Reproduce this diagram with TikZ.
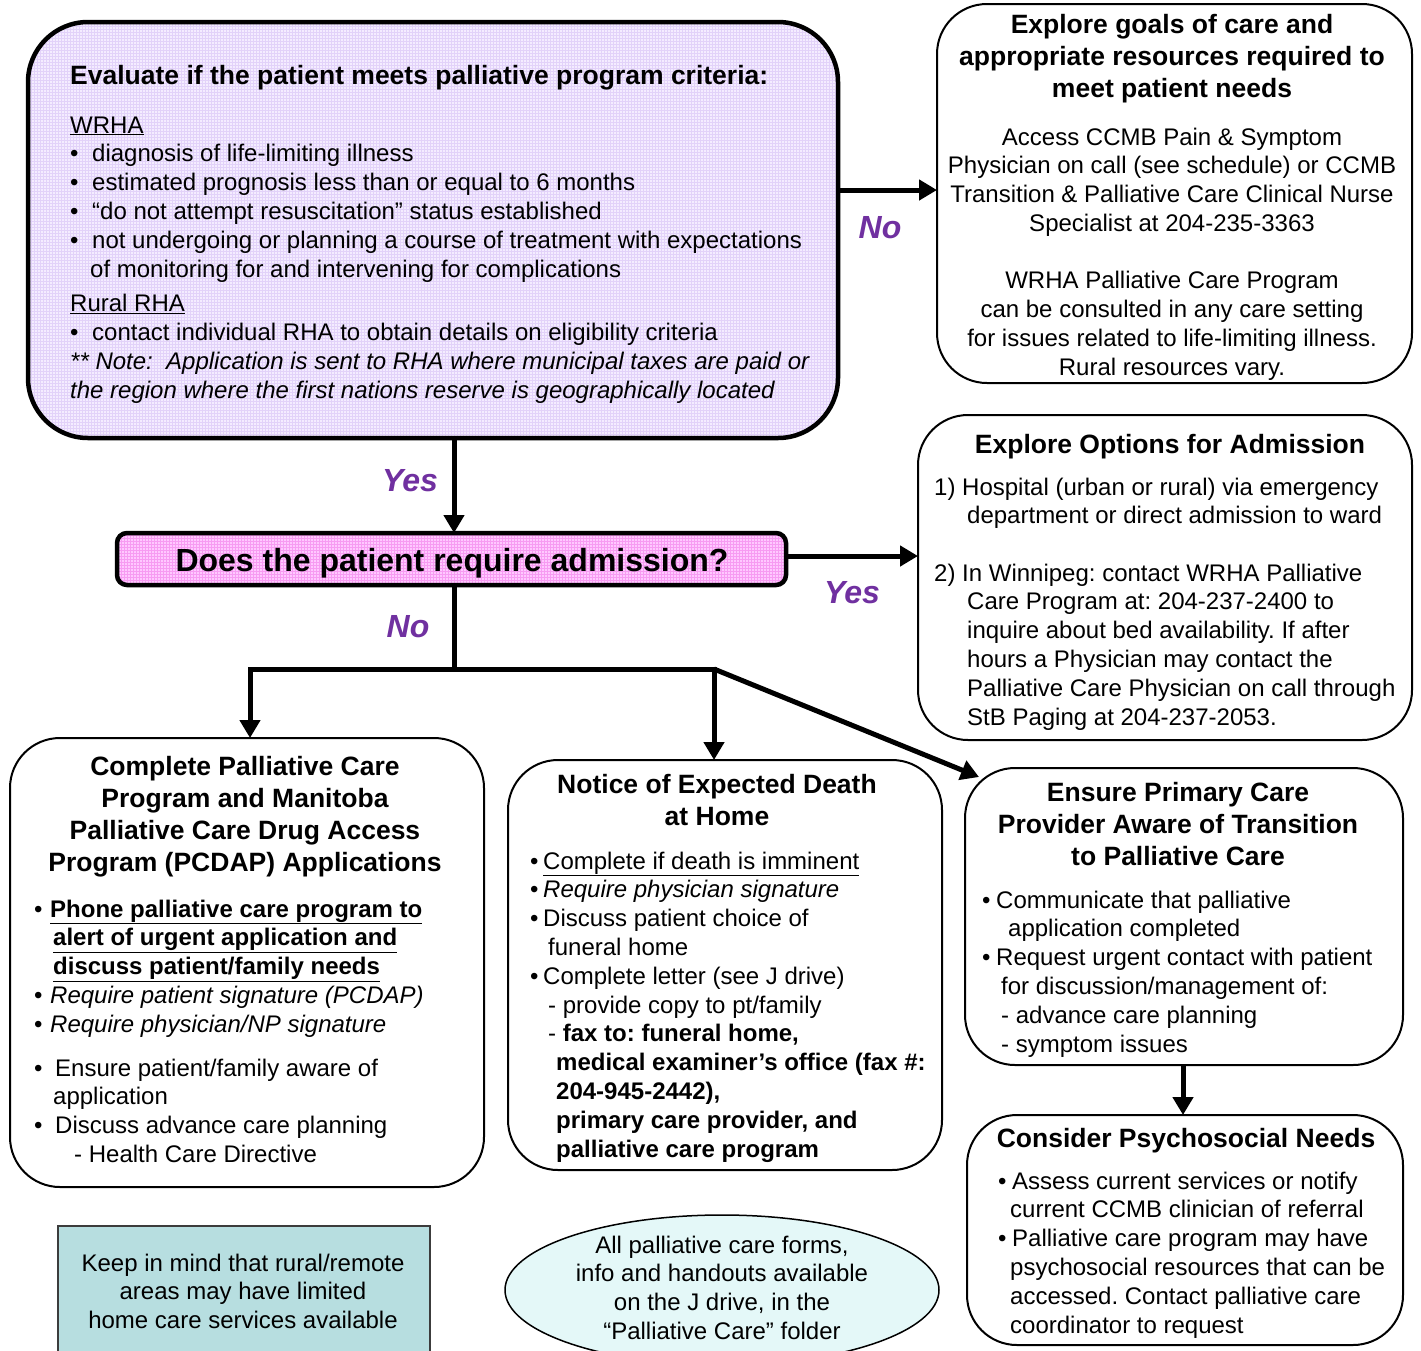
\documentclass[tikz,border=0pt]{standalone}
\usepackage{fontspec}
\setmainfont{Liberation Sans}
\usetikzlibrary{arrows.meta,shapes.geometric,calc}
\definecolor{evalfill}{RGB}{244,236,255}
\definecolor{evalgrid}{RGB}{226,210,249}
\definecolor{admfill}{RGB}{255,200,255}
\definecolor{admgrid}{RGB}{247,155,242}
\definecolor{lblpurple}{RGB}{112,48,160}
\definecolor{tealfill}{RGB}{183,222,224}
\definecolor{ellfill}{RGB}{228,248,248}
\definecolor{tealline}{RGB}{60,60,60}
\newcommand{\bodyfont}{\fontsize{24}{28.8}\selectfont}
\newcommand{\ttlfont}{\fontsize{26.5}{32}\selectfont\bfseries}
\newcommand{\bul}[1]{\makebox[#1][l]{•}}
\frenchspacing
\begin{document}
\begin{tikzpicture}[x=1pt,y=-1pt,
  thickbox/.style={draw, line width=4.5pt, inner sep=0pt, outer sep=0pt},
  thinbox/.style={draw, line width=2pt, inner sep=0pt, outer sep=0pt, rounded corners=50pt},
  gridfill/.style={path picture={\draw[#1, line width=0.6pt, step=3pt] (path picture bounding box.south west) grid (path picture bounding box.north east);}},
  arr/.style={line width=5pt, -{Triangle[length=18pt,width=20pt]}},
  conn/.style={line width=5pt},
  lbl/.style={font=\fontsize{32}{32}\selectfont\bfseries\itshape, text=lblpurple, inner sep=0pt},
  txt/.style={inner sep=0pt, anchor=base west},
  ctxt/.style={inner sep=0pt, anchor=base}]
\clip (0,0) rectangle (1421,1350);
\fill[white] (0,0) rectangle (1421,1350);

% ---------- boxes ----------
\node[thickbox, rounded corners=60pt, fill=evalfill, gridfill=evalgrid, minimum width=810pt, minimum height=416pt] (eval) at (433,230) {};
\node[thinbox, minimum width=475pt, minimum height=379pt] (goals) at (1174.5,193.5) {};
\node[thickbox, rounded corners=10pt, fill=admfill, gridfill=admgrid, minimum width=669pt, minimum height=52pt] (adm) at (451.5,559) {};
\node[thinbox, minimum width=494pt, minimum height=325pt] (opts) at (1165,577.5) {};
\node[thinbox, minimum width=474pt, minimum height=449pt] (cpc) at (247,962.5) {};
\node[thinbox, minimum width=434pt, minimum height=410pt] (ned) at (725,965) {};
\node[thinbox, minimum width=438pt, minimum height=297pt] (epc) at (1184,916.5) {};
\node[thinbox, minimum width=436pt, minimum height=230pt] (psy) at (1185,1230) {};
\node[draw=tealline, line width=1.5pt, fill=tealfill, inner sep=0pt, minimum width=372pt, minimum height=160pt] (teal) at (244,1306) {};
\node[draw, ellipse, line width=1.5pt, fill=ellfill, inner sep=0pt, minimum width=434pt, minimum height=150pt] (ell) at (722,1290) {};

% ---------- connectors ----------
\coordinate (y1) at (0,190);
\coordinate (y2) at (0,556);
\coordinate (x1) at (454,0);
\coordinate (x4) at (1183,0);
\coordinate (jn) at (454,669);
\coordinate (jl) at (250,669);
\coordinate (jr) at (714,669);
\coordinate (tip3) at (979,777);
\draw[arr] (eval.east |- y1) -- (goals.west |- y1);
\draw[arr] (eval.south -| x1) -- (adm.north -| x1);
\draw[arr] (adm.east |- y2) -- (opts.west |- y2);
\draw[conn] (adm.south -| x1) -- (jn);
\draw[conn, line cap=rect] (jl) -- (jr);
\draw[arr] (jl) -- (cpc.north -| jl);
\draw[arr] (jr) -- (ned.north -| jr);
\draw[arr] (jr) -- (tip3);
\draw[arr] (epc.south -| x4) -- (psy.north -| x4);

% ---------- labels ----------
\node[lbl] (lno1) at (880,228) {No};
\node[lbl] (lyes1) at (410,481) {Yes};
\node[lbl] (lyes2) at (852,593) {Yes};
\node[lbl] (lno2) at (408,627) {No};

% ---------- texts ----------
\node[txt, font=\ttlfont] (evalT) at (70,84) {Evaluate if the patient meets palliative program criteria:};
\node[txt] (evalB) at (70,133) {\parbox[t]{780pt}{\bodyfont
\underline{WRHA}\\
\bul{22pt}diagnosis of life-limiting illness\\
\bul{22pt}estimated prognosis less than or equal to 6 months\\
\bul{22pt}“do not attempt resuscitation” status established\\
\bul{22pt}not undergoing or planning a course of treatment with expectations\\
\hspace*{20pt}of monitoring for and intervening for complications\\[6pt]
\underline{Rural RHA}\\
\bul{22pt}contact individual RHA to obtain details on eligibility criteria\\
\textit{** Note:~ Application is sent to RHA where municipal taxes are paid or}\\
\textit{the region where the first nations reserve is geographically located}}};

\node[ctxt] (goalsT) at (1172,33) {\parbox[t]{470pt}{\centering\ttlfont
Explore goals of care and\\appropriate resources required to\\meet patient needs}};
\node[ctxt] (goalsB) at (1172,145) {\parbox[t]{470pt}{\centering\bodyfont
Access CCMB Pain \& Symptom\\
Physician on call (see schedule) or CCMB\\
Transition \& Palliative Care Clinical Nurse\\
Specialist at 204-235-3363\\[28.4pt]
WRHA Palliative Care Program\\
can be consulted in any care setting\\
for issues related to life-limiting illness.\\
Rural resources vary.}};

\node[ctxt, font=\fontsize{32}{32}\selectfont\bfseries] (admT) at (452,571) {Does the patient require admission?};

\node[ctxt, font=\ttlfont] (optsT) at (1170,453) {Explore Options for Admission};
\node[txt] (optsB) at (934,495) {\parbox[t]{475pt}{\bodyfont
1) Hospital (urban or rural) via emergency\\
\hspace*{33pt}department or direct admission to ward\\[28.4pt]
2) In Winnipeg: contact WRHA Palliative\\
\hspace*{33pt}Care Program at: 204-237-2400 to\\
\hspace*{33pt}inquire about bed availability. If after\\
\hspace*{33pt}hours a Physician may contact the\\
\hspace*{33pt}Palliative Care Physician on call through\\
\hspace*{33pt}StB Paging at 204-237-2053.}};

\node[ctxt] (cpcT) at (245,775) {\parbox[t]{460pt}{\centering\ttlfont
Complete Palliative Care\\Program and Manitoba\\Palliative Care Drug Access\\Program (PCDAP) Applications}};
\node[txt] (cpcB) at (34,917) {\parbox[t]{445pt}{\bodyfont
\bul{16pt}\textbf{\underline{Phone palliative care program to}}\\
\hspace*{19pt}\textbf{\underline{alert of urgent application and}}\\
\hspace*{19pt}\textbf{\underline{discuss patient/family needs}}\\
\bul{16pt}\textit{Require patient signature (PCDAP)}\\
\bul{16pt}\textit{Require physician/NP signature}\\[15pt]
\bul{21pt}Ensure patient/family aware of\\
\hspace*{19pt}application\\
\bul{21pt}Discuss advance care planning\\
\hspace*{40pt}- Health Care Directive}};

\node[ctxt] (nedT) at (717,793) {\parbox[t]{420pt}{\centering\ttlfont
Notice of Expected Death\\at Home}};
\node[txt] (nedB) at (530,869) {\parbox[t]{405pt}{\bodyfont
\bul{13pt}\underline{Complete if death is imminent}\\
\bul{13pt}\textit{Require physician signature}\\
\bul{13pt}Discuss patient choice of\\
\hspace*{18pt}funeral home\\
\bul{13pt}Complete letter (see J drive)\\
\hspace*{18pt}- provide copy to pt/family\\
\hspace*{18pt}- \textbf{fax to: funeral home,}\\
\hspace*{26pt}\textbf{medical examiner’s office (fax \#:}\\
\hspace*{26pt}\textbf{204-945-2442),}\\
\hspace*{26pt}\textbf{primary care provider, and}\\
\hspace*{26pt}\textbf{palliative care program}}};

\node[ctxt] (epcT) at (1178,801) {\parbox[t]{430pt}{\centering\ttlfont
Ensure Primary Care\\Provider Aware of Transition\\to Palliative Care}};
\node[txt] (epcB) at (982,908) {\parbox[t]{415pt}{\bodyfont
\bul{14pt}Communicate that palliative\\
\hspace*{26pt}application completed\\
\bul{14pt}Request urgent contact with patient\\
\hspace*{19pt}for discussion/management of:\\
\hspace*{19pt}- advance care planning\\
\hspace*{19pt}- symptom issues}};

\node[ctxt, font=\ttlfont] (psyT) at (1186,1147) {Consider Psychosocial Needs};
\node[txt] (psyB) at (998,1189) {\parbox[t]{400pt}{\bodyfont
\bul{14pt}Assess current services or notify\\
\hspace*{12pt}current CCMB clinician of referral\\
\bul{14pt}Palliative care program may have\\
\hspace*{12pt}psychosocial resources that can be\\
\hspace*{12pt}accessed. Contact palliative care\\
\hspace*{12pt}coordinator to request}};

\node[ctxt] (tealT) at (243,1271) {\parbox[t]{360pt}{\centering\bodyfont
Keep in mind that rural/remote\\areas may have limited\\home care services available}};
\node[ctxt] (ellT) at (722,1253) {\parbox[t]{400pt}{\centering\bodyfont
All palliative care forms,\\info and handouts available\\on the J drive, in the\\“Palliative Care” folder}};
\end{tikzpicture}
\end{document}
